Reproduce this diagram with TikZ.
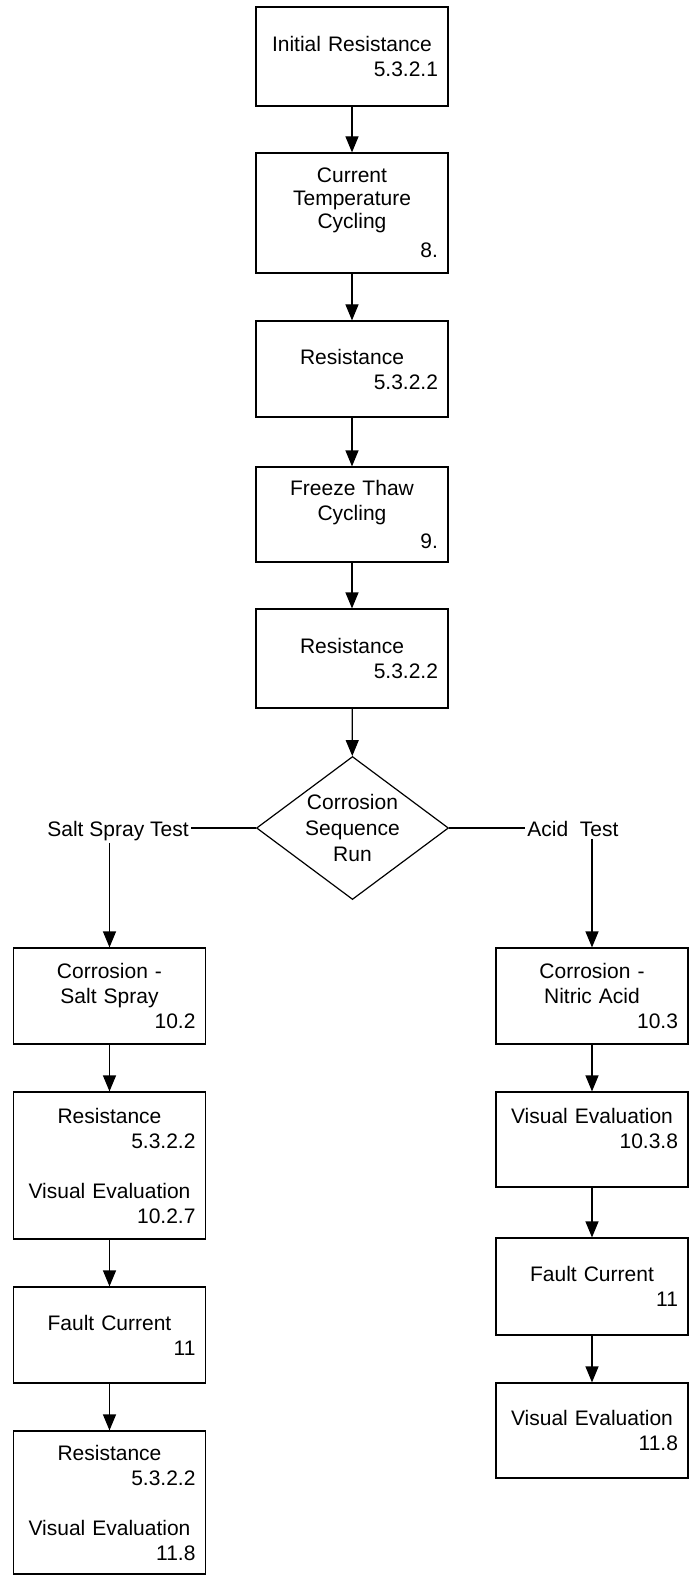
\documentclass[tikz,border=0pt]{standalone}
\usepackage{fontspec}
\setmainfont{Liberation Sans}
\usetikzlibrary{shapes.geometric,arrows.meta}
\newcommand{\secno}[1]{\mbox{}\hfill#1}
\tikzset{
  stepbox/.style={draw, rectangle, line width=0.6pt, minimum width=96pt,
    text width=86pt, inner xsep=5pt, inner ysep=0pt, align=center,
    font=\fontsize{10.5}{12.5}\selectfont},
  decide/.style={draw, diamond, line width=0.6pt, aspect=1.34, minimum width=96pt,
    minimum height=71.5pt, inner sep=0pt, align=center,
    font=\fontsize{10.5}{13}\selectfont},
  branch/.style={inner sep=1pt, font=\fontsize{10.5}{12.5}\selectfont},
  flow/.style={line width=0.6pt, -{Triangle[length=8pt,width=6.5pt]}},
  plain/.style={line width=0.6pt}
}
\begin{document}
\begin{tikzpicture}[x=0.5pt,y=-0.5pt]
\useasboundingbox (0,0) rectangle (691,1583);

% Main column
\node[stepbox, minimum height=49.5pt] (b1) at (352.0,56.5) {Initial Resistance\\\secno{5.3.2.1}};
\node[stepbox, minimum height=60pt] (b2) at (352.0,213.0) {Current\\[-1pt]Temperature\\[-1pt]Cycling\\[2pt]\secno{8.}};
\node[stepbox, minimum height=48pt] (b3) at (352.0,369.0) {Resistance\\\secno{5.3.2.2}};
\node[stepbox, minimum height=47.5pt] (b4) at (352.0,514.5) {Freeze Thaw\\Cycling\\[1.5pt]\secno{9.}};
\node[stepbox, minimum height=49.5pt] (b5) at (352.0,658.5) {Resistance\\\secno{5.3.2.2}};

% Decision
\node[decide] (dec) at (352.5,828.0) {Corrosion\\Sequence\\Run};
\node[branch, anchor=base west] (salt) at (45.0,836.0) {Salt Spray Test};
\node[branch, anchor=base west] (acid) at (525.0,836.0) {Acid\ \ Test};

% Salt spray column
\node[stepbox, minimum height=48pt] (l1) at (109.5,996.0) {Corrosion -\\Salt Spray\\\secno{10.2}};
\node[stepbox, minimum height=73.5pt] (l2) at (109.5,1165.5) {Resistance\\\secno{5.3.2.2}\\[12.5pt]Visual Evaluation\\\secno{10.2.7}};
\node[stepbox, minimum height=48pt] (l3) at (109.5,1335.0) {Fault Current\\\secno{11}};
\node[stepbox, minimum height=71.5pt] (l4) at (109.5,1502.5) {Resistance\\\secno{5.3.2.2}\\[12.5pt]Visual Evaluation\\\secno{11.8}};

% Acid column
\node[stepbox, minimum height=48pt] (r1) at (592.0,996.0) {Corrosion -\\Nitric Acid\\\secno{10.3}};
\node[stepbox, minimum height=47.5pt] (r2) at (592.0,1139.5) {Visual Evaluation\\\secno{10.3.8}\\[-1.5pt]\mbox{}};
\node[stepbox, minimum height=48.5pt] (r3) at (592.0,1286.5) {Fault Current\\\secno{11}};
\node[stepbox, minimum height=47.5pt] (r4) at (592.0,1430.5) {Visual Evaluation\\\secno{11.8}};

% Main arrows
\draw[flow] (b1) -- (b2);
\draw[flow] (b2) -- (b3);
\draw[flow] (b3) -- (b4);
\draw[flow] (b4) -- (b5);
\draw[flow] (b5) -- (dec);

% Branch lines
\draw[plain] (dec.west) -- (dec.west -| salt.east);
\draw[plain] (dec.east) -- (dec.east -| acid.west);
\draw[flow] (salt.south -| l1.north) -- (l1.north);
\draw[flow] (acid.south -| r1.north) -- (r1.north);

% Salt spray arrows
\draw[flow] (l1) -- (l2);
\draw[flow] (l2) -- (l3);
\draw[flow] (l3) -- (l4);

% Acid arrows
\draw[flow] (r1) -- (r2);
\draw[flow] (r2) -- (r3);
\draw[flow] (r3) -- (r4);
\end{tikzpicture}
\end{document}
